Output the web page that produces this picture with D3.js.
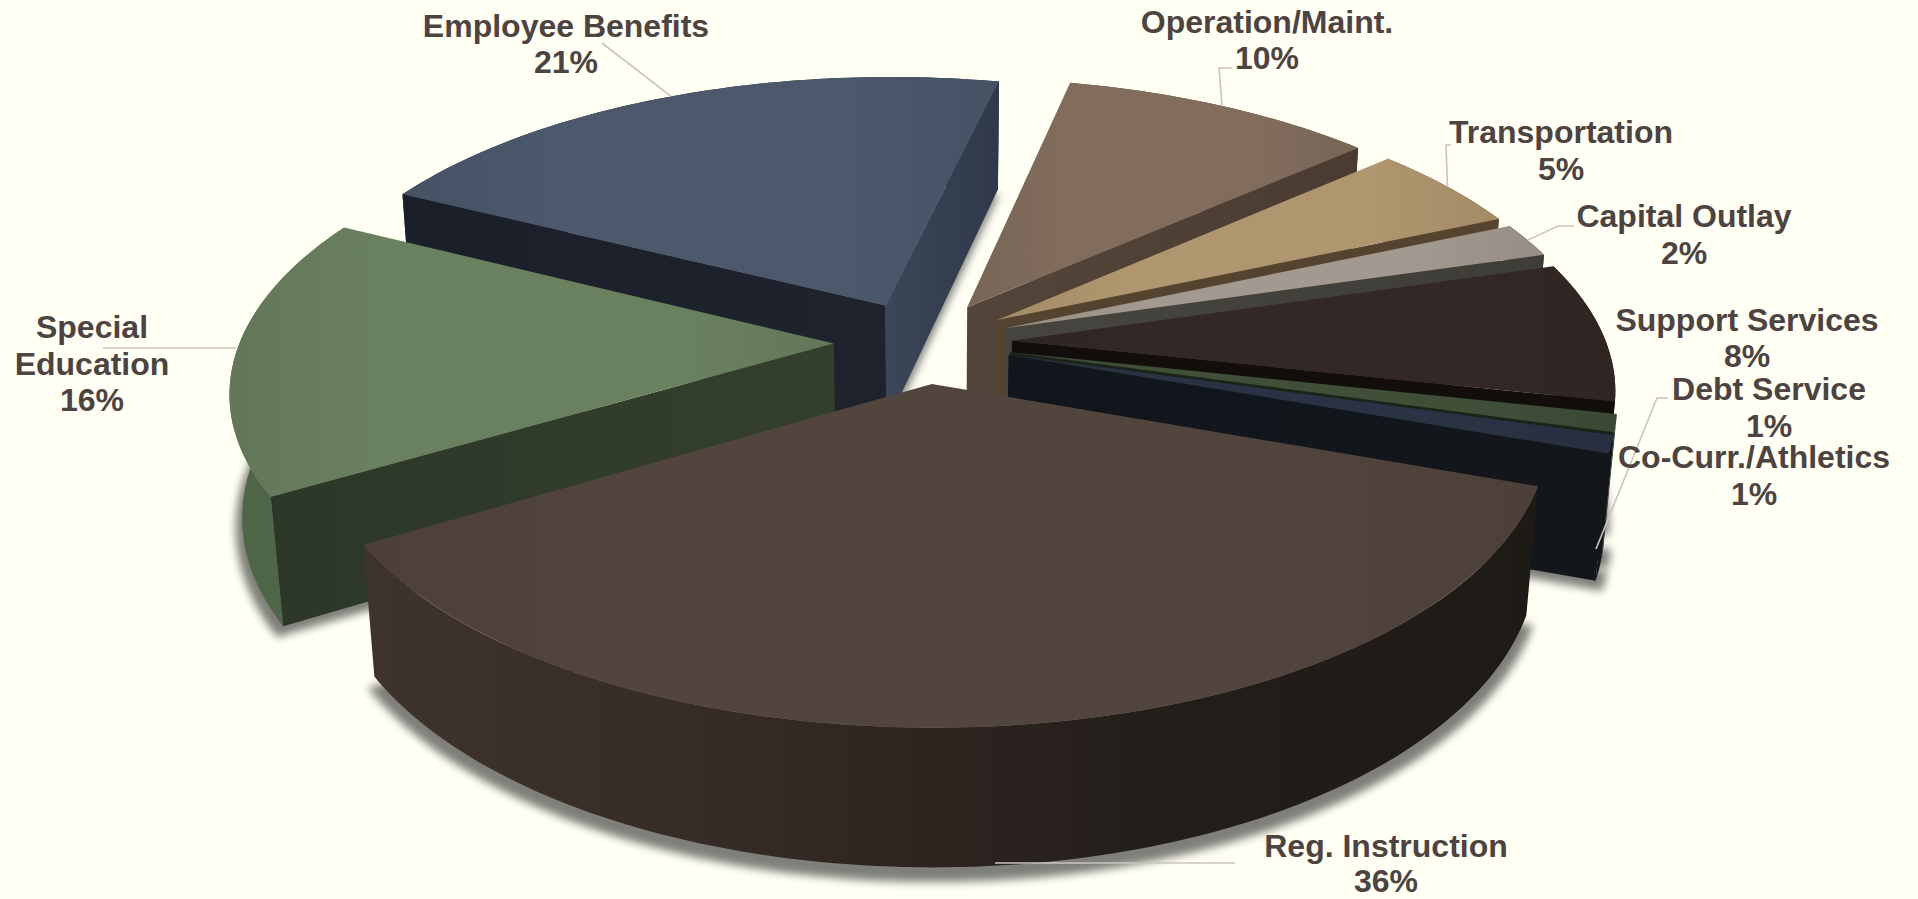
<!DOCTYPE html>
<html>
<head>
<meta charset="utf-8">
<script src="https://cdn.jsdelivr.net/npm/d3@7"></script>
<style>
  html, body { margin: 0; padding: 0; background: #fffff4; overflow: hidden; }
  svg { display: block; }
  text { font-family: "Liberation Sans", Arial, sans-serif; font-weight: 700; fill: #4d4340; }
</style>
</head>
<body>
<svg id="chart" width="1918" height="899"></svg>
<script>
// Budget shares, in drawing order around the pie
const categories = ["Reg. Instruction", "Special Education", "Employee Benefits", "Operation/Maint.",
                    "Transportation", "Capital Outlay", "Support Services", "Debt Service", "Co-Curr./Athletics"];
const shares = [36, 16, 21, 10, 5, 2, 8, 1, 1];

// Per-slice fills
const topColors  = ["#52453e", "#6a815f", "#4c586c", "#826d5d", "#b0966e", "#a29a90", "#332826", "#3f4f38", "#2a3345"];
const wallColors = [["#3f332e", "#352a25", "#241e1a", "#1e1a16"], ["#4f6548", "#5a7152"], ["#1d222c", "#1d222c"], ["#4e3f34", "#4e3f34"],
                    ["#54432f", "#54432f"], ["#434038", "#434038"], ["#2a2220", "#2a2220"], ["#1d2419", "#1d2419"], ["#10161c", "#10161c"]];
const startFaceColors = [["#41352f", "#1e1a16"], ["#2d3728", "#343f2d"], ["#1a1f29", "#1e232d"], ["#4a3c32", "#4e3f34"],
                         ["#54432f", "#54432f"], ["#474540", "#3f3d38"], ["#130e0b", "#130e0b"], ["#1d2419", "#1d2419"], ["#10161c", "#13171c"]];
const endFaceColors = [["#41352f", "#1e1a16"], ["#2d3728", "#343f2d"], ["#3c4659", "#2f394b"], ["#54453a", "#4a3c32"],
                       ["#54432f", "#54432f"], ["#474540", "#3f3d38"], ["#130e0b", "#130e0b"], ["#1b2318", "#1b2318"], ["#10161c", "#13171c"]];

// Back-to-front painting order (indices into the arrays above)
const paintOrder = [2, 3, 4, 5, 6, 7, 8, 1, 0];

const W = 1918, H = 899;
const startDeg = 109.6;
const explode = 0.15;

// Perspective camera for the tilted pie
const cam = { cx: 923, cy: 342, a: 594, b: 275, h: 124, p: 0.157, q: 0.018 };
function project(X, Y, Z) {
  const w = 1 + cam.p * Y + cam.q * Z;
  return [cam.cx + cam.a * X / w, cam.cy - (cam.b * Y - cam.h * Z) / w];
}

const pie = d3.pie().sort(null).value(d => d)
  .startAngle(startDeg * Math.PI / 180)
  .endAngle(startDeg * Math.PI / 180 + 2 * Math.PI);
const arcs = pie(shares);

const svg = d3.select("#chart");
svg.append("rect").attr("width", W).attr("height", H).attr("fill", "#fffff4");
const defs = svg.append("defs");
defs.append("filter").attr("id", "soft").attr("x", "-10%").attr("y", "-10%").attr("width", "120%").attr("height", "120%")
  .append("feGaussianBlur").attr("stdDeviation", 4.5);

const line = d3.line();
const closed = d3.line().curve(d3.curveLinearClosed);

function sliceGeometry(d) {
  const mid = (d.startAngle + d.endAngle) / 2;
  const ox = explode * Math.sin(mid), oy = explode * Math.cos(mid);
  const steps = Math.max(6, Math.ceil((d.endAngle - d.startAngle) * 50));
  const angles = d3.range(steps + 1).map(i => d.startAngle + (d.endAngle - d.startAngle) * i / steps);
  const rim = (z, r = 1) => angles.map(t => project(ox + r * Math.sin(t), oy + r * Math.cos(t), z));
  const apex = z => project(ox, oy, z);
  return { mid, ox, oy, rim, apex };
}

function gradient(id, x0, x1, stops) {
  const g = defs.append("linearGradient").attr("id", id)
    .attr("gradientUnits", "userSpaceOnUse")
    .attr("x1", x0).attr("x2", x1).attr("y1", 0).attr("y2", 0);
  stops.forEach((c, i) => g.append("stop").attr("offset", i / (stops.length - 1)).attr("stop-color", c));
  return `url(#${id})`;
}

function area(pts) {
  let s = 0;
  pts.forEach((p, i) => { const q = pts[(i + 1) % pts.length]; s += p[0] * q[1] - q[0] * p[1]; });
  return s;
}

const shadowLayer = svg.append("g");
const sliceLayer = svg.append("g");

paintOrder.forEach(i => {
  const d = arcs[i], geo = sliceGeometry(d);
  const topRim = geo.rim(0), lowRim = geo.rim(1);
  const a0 = geo.apex(0), a1 = geo.apex(1);
  const xs = topRim.map(p => p[0]).concat(a0[0]);
  const xMin = d3.min(xs), xMax = d3.max(xs);
  const extent = pts => d3.extent(pts, p => p[0]);

  // soft contact shadow under the base of the slice
  shadowLayer.append("path")
    .attr("d", closed([geo.apex(1.07), ...geo.rim(1.07, 1.012)]))
    .attr("fill", "#000").attr("fill-opacity", 0.5).attr("filter", "url(#soft)");

  const g = sliceLayer.append("g").attr("class", "slice").datum(categories[i]);

  // outer curved wall
  g.append("path")
    .attr("d", closed([...topRim, ...lowRim.slice().reverse()]))
    .attr("fill", gradient("wall" + i, xMin, xMax, wallColors[i]));

  // radial faces, only those turned towards the viewer
  const startFace = [a0, topRim[0], lowRim[0], a1];
  const endFace = [a0, a1, lowRim[lowRim.length - 1], topRim[topRim.length - 1]];
  if (area(startFace) < 0) {
    const [x0, x1] = extent(startFace);
    g.append("path").attr("d", closed(startFace)).attr("fill", gradient("face" + i, x0, x1, startFaceColors[i]));
  }
  if (area(endFace) < 0) {
    const [x0, x1] = extent(endFace);
    g.append("path").attr("d", closed(endFace)).attr("fill", gradient("end" + i, x0, x1, endFaceColors[i]));
  }

  // top surface, shaded slightly darker towards its sides
  const base = d3.color(topColors[i]);
  const edge = base.darker(0.22).formatHex();
  g.append("path")
    .attr("d", closed([a0, ...topRim]))
    .attr("fill", gradient("top" + i, xMin, xMax, [edge, topColors[i], topColors[i], topColors[i], edge]));
});

// Labels and their leader lines
const labelLayout = [
  { lines: ["Reg. Instruction", "36%"], x: 1386, y: [857, 892], path: [[1235, 863]], rim: [995, 863] },
  { lines: ["Special", "Education", "16%"], x: 92, y: [338, 375, 411], path: [[103, 348]], rim: [236, 348] },
  { lines: ["Employee Benefits", "21%"], x: 566, y: [37, 73], path: [[602, 43]] },
  { lines: ["Operation/Maint.", "10%"], x: 1267, y: [33, 69], path: [[1219, 68], [1232, 68]] },
  { lines: ["Transportation", "5%"], x: 1561, y: [143, 180], path: [[1446, 145], [1451, 145]] },
  { lines: ["Capital Outlay", "2%"], x: 1684, y: [227, 264], path: [[1558, 226], [1574, 226]] },
  { lines: ["Support Services", "8%"], x: 1747, y: [331, 367] },
  { lines: ["Debt Service", "1%"], x: 1769, y: [400, 437], path: [[1657, 398], [1668, 398]], rim: [1596, 549] },
  { lines: ["Co-Curr./Athletics", "1%"], x: 1754, y: [468, 505] }
];

const labels = svg.append("g");
labelLayout.forEach((l, i) => {
  const geo = sliceGeometry(arcs[i]);
  if (l.path) {
    const from = l.rim || project(geo.ox + Math.sin(geo.mid), geo.oy + Math.cos(geo.mid), 0);
    labels.append("path")
      .attr("d", line([from, ...l.path]))
      .attr("fill", "none").attr("stroke", "#c9c4bd").attr("stroke-width", 1.6);
  }
  l.lines.forEach((t, k) => {
    labels.append("text").attr("x", l.x).attr("y", l.y[k])
      .attr("text-anchor", "middle").attr("font-size", 32).text(t);
  });
});
</script>
</body>
</html>
